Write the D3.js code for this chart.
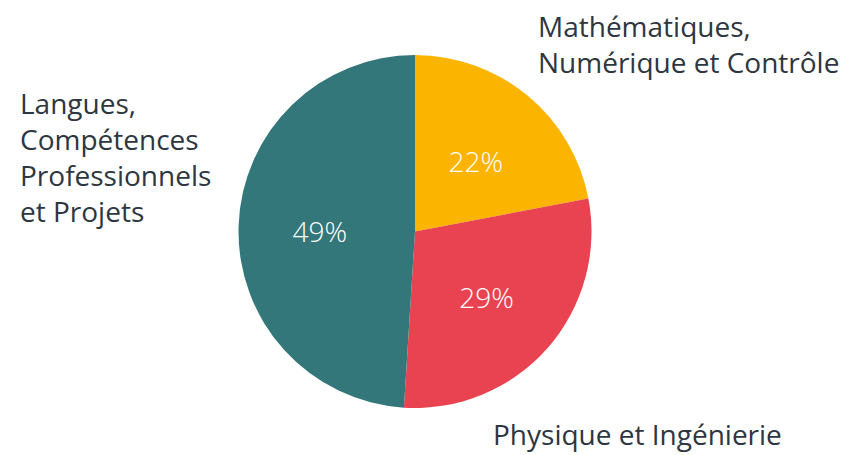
<!DOCTYPE html>
<html>
<head>
<meta charset="utf-8">
<script src="https://cdn.jsdelivr.net/npm/d3@7"></script>
<style>
  body { margin: 0; background: #fff; }
  text { font-family: "Open Sans", sans-serif; }
</style>
</head>
<body>
<div id="chart"></div>
<script>
(function() {
  var width = 848, height = 455;

  var categories = ["Mathématiques, Numérique et Contrôle", "Physique et Ingénierie", "Langues, Compétences Professionnels et Projets"];
  var values = [22, 29, 49];
  var colours = ["#FBB400", "#E94352", "#33777B"];

  // label lines and where they sit
  var labelLines = [
    ["Mathématiques,", "Numérique et Contrôle"],
    ["Physique et Ingénierie"],
    ["Langues,", "Compétences", "Professionnels", "et Projets"]
  ];
  var labelPos = [[538, 37], [493, 445], [20, 114]];

  var cx = 415, cy = 231.5, radius = 176.5;

  var svg = d3.select("#chart")
    .append("svg")
    .attr("width", width)
    .attr("height", height);

  var g = svg.append("g")
    .attr("transform", "translate(" + cx + "," + cy + ")");

  var data = categories.map(function(c, i) {
    return { name: c, value: values[i], colour: colours[i] };
  });

  var pie = d3.pie().sort(null).value(function(d) { return d.value; });
  var arc = d3.arc().innerRadius(0).outerRadius(radius);
  var labelArc = d3.arc().innerRadius(radius * 0.54).outerRadius(radius * 0.54);

  var arcs = pie(data);

  g.selectAll("path")
    .data(arcs)
    .enter().append("path")
    .attr("d", arc)
    .attr("fill", function(d) { return d.data.colour; });

  g.selectAll(".pct")
    .data(arcs)
    .enter().append("text")
    .attr("class", "pct")
    .attr("transform", function(d) {
      var c = labelArc.centroid(d);
      return "translate(" + c[0] + "," + (c[1] + 4) + ")";
    })
    .attr("text-anchor", "middle")
    .attr("dy", ".35em")
    .style("fill", "#fff")
    .style("font-size", "28px")
    .style("font-weight", 300)
    .text(function(d) { return d.data.value + "%"; });

  // category labels
  labelLines.forEach(function(lines, i) {
    var t = svg.append("text")
      .attr("x", labelPos[i][0])
      .attr("y", labelPos[i][1])
      .style("fill", "#2E3640")
      .style("font-size", "28px");
    lines.forEach(function(line, j) {
      t.append("tspan")
        .attr("x", labelPos[i][0])
        .attr("dy", j === 0 ? 0 : 36)
        .text(line);
    });
  });
})();
</script>
</body>
</html>
